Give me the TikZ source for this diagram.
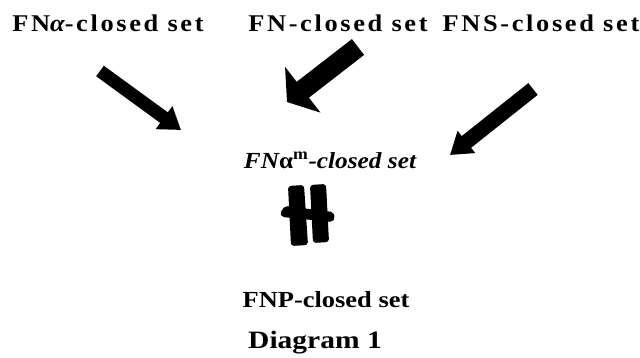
\documentclass[tikz,border=0pt]{standalone}
\usepackage{fontspec}
\setmainfont{Liberation Serif}
\newfontfamily\spacedserif[LetterSpace=10]{Liberation Serif}
\usetikzlibrary{arrows.meta}
\begin{document}
\begin{tikzpicture}[x=1pt,y=-1pt,
  lbl/.style={anchor=base, inner sep=0pt, font=\bfseries},
  blockarrow/.style n args={3}{line width=#1,
    -{Triangle[length=#2,width=#3]}}]
\useasboundingbox (0,0) rectangle (640,358);

% set names along the top
\node[lbl] (nalpha) at (108,32) {\fontsize{24}{28}\selectfont\scalebox{1.1}[1]{\spacedserif\bfseries FN{\itshape α}-closed set}};
\node[lbl] (nfn)    at (338,32) {\fontsize{24}{28}\selectfont\scalebox{1.1}[1]{\spacedserif\bfseries FN-closed set}};
\node[lbl] (nfns)   at (541,32) {\fontsize{24}{28}\selectfont\scalebox{1.1}[1]{\spacedserif\bfseries FNS-closed set}};

% the central class and the one below it
\node[lbl] (nmid) at (330,169) {\fontsize{23}{27}\selectfont\scalebox{1.1}[1]{\itshape FN\upshape α\textsuperscript{m}\itshape -closed set}};
\node[lbl] (nfnp) at (326,307) {\fontsize{23}{27}\selectfont\scalebox{1.15}[1]{FNP-closed set}};
\node[lbl] (ncap) at (315,348) {\fontsize{25}{29}\selectfont\scalebox{1.18}[1]{Diagram 1}};

% end points of the three block arrows
\coordinate (a1s) at (100,71);  \coordinate (a1e) at (181,130);
\coordinate (a2s) at (358,47);  \coordinate (a2e) at (287,102);
\coordinate (a3s) at (533,89);  \coordinate (a3e) at (450,155);

\draw[blockarrow={13pt}{21pt}{27pt}] (a1s) -- (a1e);
\draw[blockarrow={20pt}{20pt}{57pt}] (a2s) -- (a2e);
\draw[blockarrow={15pt}{21pt}{27pt}] (a3s) -- (a3e);

% crossed double bar between the middle class and FNP
\fill[rounded corners=2pt] (285,206) -- (333,212) -- (335,218) -- (332,222) -- (282,217) -- (280,213) -- cycle;
\fill[rounded corners=3pt] (288,186) -- (304,185) -- (308,245) -- (291,246) -- cycle;
\fill[rounded corners=3pt] (310,185) -- (326,184) -- (329,242) -- (313,243) -- cycle;
\end{tikzpicture}
\end{document}
